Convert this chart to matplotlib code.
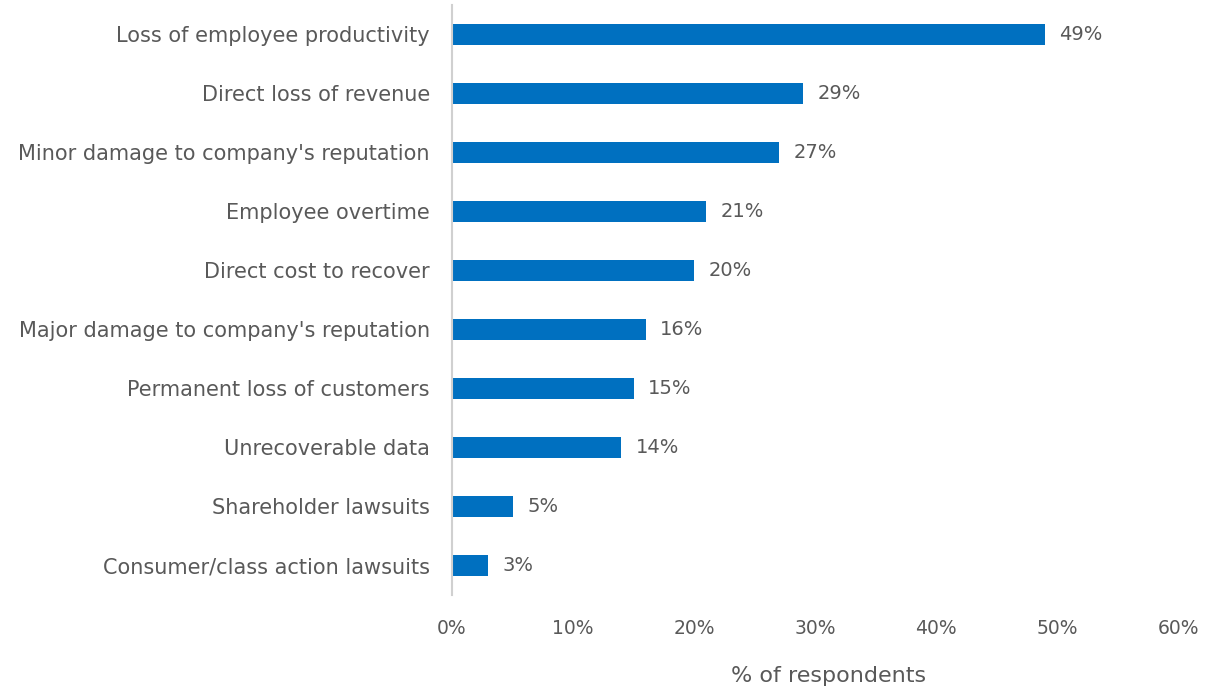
import matplotlib.pyplot as plt

# survey results, top to bottom
categories = [
    "Loss of employee productivity",
    "Direct loss of revenue",
    "Minor damage to company's reputation",
    "Employee overtime",
    "Direct cost to recover",
    "Major damage to company's reputation",
    "Permanent loss of customers",
    "Unrecoverable data",
    "Shareholder lawsuits",
    "Consumer/class action lawsuits",
]
percents = [49, 29, 27, 21, 20, 16, 15, 14, 5, 3]
xticks = [0, 10, 20, 30, 40, 50, 60]

plt.rcParams["font.family"] = ["DejaVu Sans"]
grey = "#595959"

fig = plt.figure(figsize=(12.09, 6.92), dpi=100)
ax = fig.add_axes([0.3739, 0.1402, 0.6005, 0.8526])

ypos = list(range(len(categories)))[::-1]
ax.barh(ypos, percents, height=0.37, color="#0070C0")

# value labels just right of each bar
for y, v in zip(ypos, percents):
    ax.text(v + 1.2, y, f"{v}%", va="center", ha="left", fontsize=14, color=grey)

ax.set_yticks(ypos)
ax.set_yticklabels(categories, fontsize=15, color=grey)
ax.set_ylim(-0.5, len(categories) - 0.5)
ax.set_xlim(0, 60)
ax.set_xticks(xticks)
ax.set_xticklabels([f"{t}%" for t in xticks], fontsize=13.5, color=grey)
ax.tick_params(axis="both", length=0)
ax.tick_params(axis="x", pad=17)
ax.tick_params(axis="y", pad=16)

for s in ["top", "right", "bottom"]:
    ax.spines[s].set_visible(False)
ax.spines["left"].set_color("#d0d0d0")
ax.spines["left"].set_linewidth(1.5)

ax.set_xlabel("% of respondents", fontsize=16, color=grey)
ax.xaxis.set_label_coords(0.518, -0.12)

fig.savefig("out.png", dpi=100)
